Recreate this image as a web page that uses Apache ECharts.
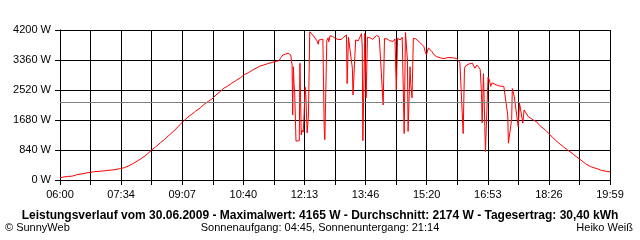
<!DOCTYPE html>
<html><head><meta charset="utf-8">
<script src="https://cdn.jsdelivr.net/npm/echarts@6/dist/echarts.min.js"></script>
<style>html,body{margin:0;padding:0;background:#fff}#c{width:640px;height:240px}</style>
</head><body><div id="c"></div>
<script>
// minutes after 06:00
var times = [0,11,18,26,34,41,47,53,61,69,76,84,92,98,104,110,116,122,128,134,140,146,153,159,165,171,177,183,189,195,201,207,214,220,226,232,238,244,250,256,262,268,275,281,287,293,299,305,311,317,323,330,334,337,340,343,348,351,352,354,355,356,357,358,360,365,366,368,369,371,372,374,375,377,379,381,383,384,386,389,392,394,395,398,401,402,403,404,407,409,410,412,416,420,424,429,432,435,437,438,440,442,446,447,451,455,458,460,461,462,464,465,467,469,473,477,483,487,490,493,495,499,503,508,511,513,515,519,522,524,525,526,527,530,531,533,534,535,537,539,543,546,549,552,555,557,559,562,564,567,571,575,580,586,592,595,600,605,608,610,613,615,617,619,624,629,633,636,641,643,644,646,647,649,652,653,655,657,659,662,667,671,677,683,684,689,690,693,696,699,701,703,706,708,710,712,714,717,722,727,732,737,741,747,752,758,763,768,772,778,783,788,793,798,802,809,813,819,824,831,839];
var watts = [65,100,105,150,175,200,215,235,245,260,275,290,320,345,390,445,510,580,650,740,840,930,1040,1130,1230,1330,1430,1550,1660,1760,1840,1930,2020,2120,2200,2270,2380,2470,2570,2630,2710,2780,2860,2950,3000,3070,3130,3190,3220,3260,3290,3320,3340,3430,3500,3540,3550,3520,3500,3220,1820,3170,2700,2460,1090,1100,3270,1260,1400,1340,1680,2600,2380,1320,1800,4150,4165,4100,4050,4010,3900,3800,3920,3960,3940,2750,1500,1130,3900,3980,3870,4040,4020,3960,3940,3930,3990,4040,4060,2700,4000,3980,3130,2380,3920,3900,3950,4100,3750,1100,1080,4110,2300,4000,3980,3940,4050,4000,3980,2100,3960,3950,3900,3880,3950,2520,3970,3920,4000,2240,1300,1260,4130,3360,1360,1350,3170,2700,2300,3970,3950,3900,3850,3800,3740,3600,3500,3700,3650,3600,3500,3450,3420,3400,3430,3470,3420,3400,3340,3280,3230,1300,3130,3200,3250,3270,3130,3220,3100,2430,1600,2980,2280,800,780,2880,2800,2620,2720,2700,2650,2630,2620,1820,1030,1700,2560,2330,2290,1490,2150,2100,1590,1960,1900,1850,1780,1730,1680,1630,1520,1450,1390,1280,1180,1080,1000,930,870,790,720,650,580,510,450,380,350,320,280,250,230];
var tickLabels = ['06:00','07:34','09:07','10:40','12:13','13:46','15:20','16:53','18:26','19:59'];
var yTicks = [0,840,1680,2520,3360,4200];
var average = 2174;
var titleText = 'Leistungsverlauf vom 30.06.2009 - Maximalwert: 4165 W - Durchschnitt: 2174 W - Tagesertrag: 30,40 kWh';
var sunText = 'Sonnenaufgang: 04:45, Sonnenuntergang: 21:14';

var totalMin = 839;
var step = totalMin / 18;
var data = times.map(function(t, i){ return [t, watts[i]]; });
var font = 'Liberation Sans, Arial, sans-serif';

var chart = echarts.init(document.getElementById('c'), null, {renderer:'canvas'});
chart.setOption({
  animation: false,
  backgroundColor: '#fff',
  title: [
    {text: titleText, left: 'center', top: 210, padding: 0,
     textStyle: {fontFamily: font, fontSize: 12, fontWeight: 'bold', color: '#000'}},
    {text: '\u00a9 SunnyWeb', left: 5, top: 222, padding: 0,
     textStyle: {fontFamily: font, fontSize: 11, fontWeight: 'normal', color: '#000'}},
    {text: sunText, left: 'center', top: 222, padding: 0,
     textStyle: {fontFamily: font, fontSize: 11, fontWeight: 'normal', color: '#000'}},
    {text: 'Heiko Wei\u00df', right: 7, top: 222, padding: 0,
     textStyle: {fontFamily: font, fontSize: 11, fontWeight: 'normal', color: '#000'}}
  ],
  grid: {left: 60, right: 30, top: 30, bottom: 60},
  xAxis: {
    type: 'value', min: 0, max: totalMin, interval: step,
    axisLine: {show: true, lineStyle: {color: '#000', width: 1}},
    axisTick: {show: true, length: 5, lineStyle: {color: '#000'}},
    splitLine: {show: true, lineStyle: {color: '#000', width: 1}},
    axisLabel: {
      margin: 9, color: '#000', fontFamily: font, fontSize: 11, hideOverlap: false,
      showMinLabel: true, showMaxLabel: true,
      formatter: function(v){
        var idx = Math.round(v / step);
        if (idx % 2) return '';
        return tickLabels[idx / 2] || '';
      }
    }
  },
  yAxis: {
    type: 'value', min: yTicks[0], max: yTicks[yTicks.length-1], interval: yTicks[1]-yTicks[0],
    axisLine: {show: true, lineStyle: {color: '#000', width: 1}},
    axisTick: {show: true, length: 5, lineStyle: {color: '#000'}},
    splitLine: {show: true, lineStyle: {color: '#000', width: 1}},
    axisLabel: {margin: 9, color: '#000', fontFamily: font, fontSize: 11,
      formatter: function(v){ return v + ' W'; }}
  },
  series: [{
    type: 'line', data: data, showSymbol: false, symbol: 'none',
    lineStyle: {color: '#ff0000', width: 1}, silent: true,
    markLine: {silent: true, symbol: 'none', label: {show: false},
      lineStyle: {color: '#808080', type: 'solid', width: 1},
      data: [{yAxis: average}]}
  }]
});
</script></body></html>
